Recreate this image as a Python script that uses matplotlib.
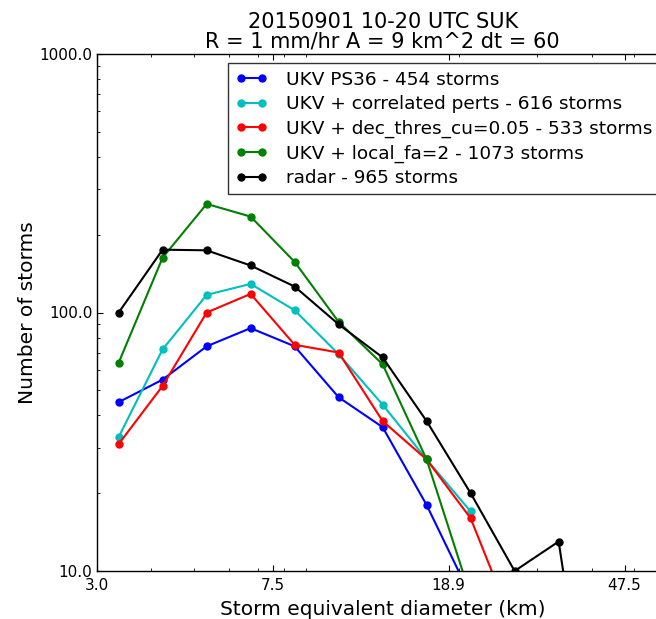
import numpy as np
import matplotlib
matplotlib.use("Agg")
import matplotlib.pyplot as plt

# Storm size distribution, 20150901 10-20 UTC, southern UK
# Bin centres of storm equivalent diameter (km), 0.1 log10 bins from 3 km
diameter_km = [3.37, 4.24, 5.34, 6.72, 8.46, 10.65, 13.41, 16.88, 21.25, 26.75, 33.68, 42.40]

# Storm counts per bin (nan = no storms in that bin)
ukv_ps36 = [45, 55, 74, 87, 74, 47, 36, 18, 8, np.nan, np.nan, np.nan]
ukv_corr_perts = [33, 72, 117, 129, 102, 69, 44, 27, 17, np.nan, np.nan, np.nan]
ukv_dec_thres = [31, 52, 100, 118, 75, 70, 38, 27, 16, 6, np.nan, np.nan]
ukv_local_fa = [64, 163, 263, 235, 157, 92, 63, 27, 8, np.nan, np.nan, np.nan]
radar = [100, 175, 174, 152, 126, 90, 67, 38, 20, 10, 13, 1]

series = [
    (ukv_ps36, "b", "UKV PS36 - 454 storms"),
    (ukv_corr_perts, "c", "UKV + correlated perts - 616 storms"),
    (ukv_dec_thres, "r", "UKV + dec_thres_cu=0.05 - 533 storms"),
    (ukv_local_fa, "g", "UKV + local_fa=2 - 1073 storms"),
    (radar, "k", "radar - 965 storms"),
]

x_ticks = [3.0, 7.54, 18.93, 47.55]
x_ticklabels = ["3.0", "7.5", "18.9", "47.5"]
y_ticks = [10, 100, 1000]
y_ticklabels = ["10.0", "100.0", "1000.0"]

plt.rcParams.update({
    "font.family": "DejaVu Sans",
    "xtick.direction": "in",
    "ytick.direction": "in",
    "xtick.top": True,
    "ytick.right": True,
    "xtick.major.size": 4,
    "ytick.major.size": 4,
    "xtick.minor.size": 2,
    "ytick.minor.size": 2,
    "axes.linewidth": 1.0,
})

fig = plt.figure(figsize=(6.56, 6.19), dpi=100)
ax = fig.add_axes([96.5 / 656, 48 / 619, 572.5 / 656, 517 / 619])

for counts, colour, label in series:
    ax.plot(diameter_km, counts, "-o", color=colour, label=label,
            linewidth=1.5, markersize=5, markeredgecolor=colour)

ax.set_xscale("log")
ax.set_yscale("log")
ax.set_xlim(3.0, 60.0)
ax.set_ylim(10, 1000)
ax.set_xticks(x_ticks)
ax.set_xticklabels(x_ticklabels, fontsize=11)
ax.set_yticks(y_ticks)
ax.set_yticklabels(y_ticklabels, fontsize=11)
ax.tick_params(axis="x", which="major", pad=5)
ax.tick_params(axis="y", which="major", pad=3)
ax.tick_params(which="minor", labelbottom=False, labelleft=False)

ax.set_xlabel("Storm equivalent diameter (km)", fontsize=14.5, labelpad=5)
ax.set_ylabel("Number of storms", fontsize=14.5, labelpad=2)
ax.set_title("20150901 10-20 UTC SUK\nR = 1 mm/hr A = 9 km^2 dt = 60",
             fontsize=15, linespacing=0.95, pad=5)

leg = ax.legend(loc="upper right", fontsize=13.3, numpoints=2, fancybox=False,
                handlelength=1.75, handletextpad=1.0, labelspacing=0.35,
                borderaxespad=0.5, borderpad=0.4)
leg.get_frame().set_edgecolor("black")
leg.get_frame().set_linewidth(1.0)

fig.savefig("out.png", dpi=100)
